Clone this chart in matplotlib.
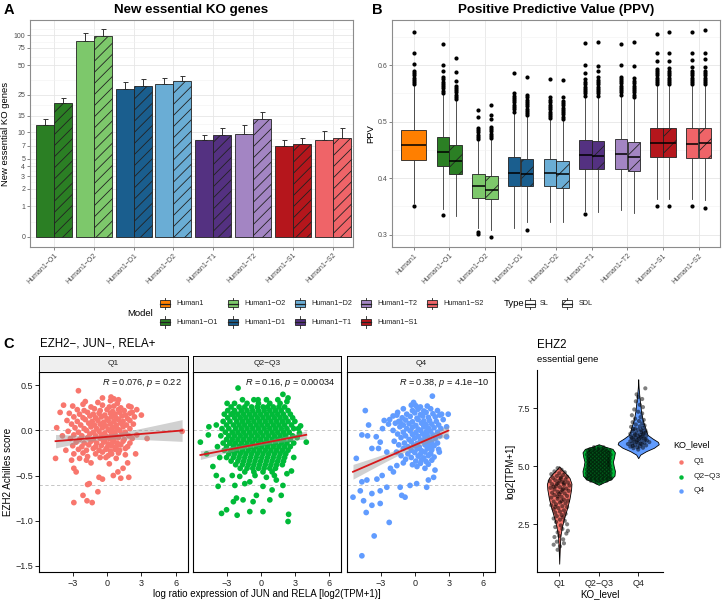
import numpy as np
import matplotlib
matplotlib.use('Agg')
import matplotlib.pyplot as plt
from matplotlib.patches import Rectangle

plt.rcParams['font.family'] = ['Liberation Sans', 'DejaVu Sans']
plt.rcParams['mathtext.fontset'] = 'custom'
plt.rcParams['mathtext.rm'] = 'Liberation Sans'
plt.rcParams['mathtext.it'] = 'Liberation Sans:italic'
plt.rcParams['hatch.linewidth'] = 0.6

# ---------------- data ----------------
models = ['Human1', 'Human1−O1', 'Human1−O2', 'Human1−D1', 'Human1−D2',
          'Human1−T1', 'Human1−T2', 'Human1−S1', 'Human1−S2']
model_colors = ['#FF7F00', '#2B7F24', '#7DC86B', '#1A5E8E', '#6AADD5',
                '#543181', '#A385C3', '#B5161C', '#EF6468']
types = ['SL', 'SDL']

# Panel A: new essential KO genes
ko_models = models[1:]
ko_sl = [12.0, 88.0, 28.8, 32.1, 8.1, 9.6, 7.0, 8.1]
ko_sdl = [20.6, 98.3, 30.6, 34.2, 9.4, 13.7, 7.3, 8.6]
ko_sl_hi = [13.9, 104.7, 34.0, 37.4, 9.3, 12.0, 8.2, 10.2]
ko_sdl_hi = [23.2, 116.5, 35.9, 39.2, 11.1, 16.4, 8.7, 11.1]
ko_ticks = [0, 1, 2, 3, 4, 5, 7, 10, 15, 25, 50, 75, 100]

# Panel B: PPV box statistics (order: Human1, then SL/SDL per model)
ppv_q1 = [0.4316, 0.4215, 0.4073, 0.3653, 0.3624, 0.386, 0.386, 0.3865, 0.383,
          0.4167, 0.4167, 0.4167, 0.413, 0.437, 0.437, 0.4365, 0.4365]
ppv_med = [0.4582, 0.4468, 0.4309, 0.386, 0.380, 0.410, 0.4073, 0.4085, 0.4067,
           0.441, 0.4392, 0.4422, 0.438, 0.4617, 0.4617, 0.4605, 0.4617]
ppv_q3 = [0.4853, 0.4734, 0.4592, 0.4073, 0.4043, 0.438, 0.4344, 0.4333, 0.430,
          0.4675, 0.4663, 0.4688, 0.4645, 0.4883, 0.4883, 0.4883, 0.4883]
ppv_lo = [0.356, 0.345, 0.333, 0.311, 0.309, 0.311, 0.322, 0.322, 0.322,
          0.342, 0.340, 0.344, 0.338, 0.364, 0.364, 0.364, 0.362]
ppv_hi = [0.563, 0.548, 0.537, 0.466, 0.468, 0.515, 0.508, 0.503, 0.502,
          0.543, 0.543, 0.545, 0.541, 0.563, 0.563, 0.563, 0.563]
ppv_fliers = [
    [0.566, 0.570, 0.574, 0.578, 0.582, 0.586, 0.590, 0.602, 0.621, 0.658, 0.351],
    [0.551, 0.555, 0.559, 0.563, 0.567, 0.571, 0.575, 0.579, 0.589, 0.601, 0.637, 0.335],
    [0.540, 0.544, 0.548, 0.552, 0.556, 0.560, 0.564, 0.572, 0.588, 0.613],
    [0.469, 0.473, 0.477, 0.481, 0.485, 0.489, 0.509, 0.521, 0.305, 0.302],
    [0.471, 0.475, 0.479, 0.483, 0.487, 0.491, 0.505, 0.512, 0.529, 0.296],
    [0.518, 0.522, 0.526, 0.530, 0.534, 0.538, 0.542, 0.546, 0.550, 0.586],
    [0.511, 0.515, 0.519, 0.523, 0.527, 0.531, 0.535, 0.539, 0.543, 0.548, 0.580, 0.308],
    [0.506, 0.510, 0.514, 0.518, 0.522, 0.526, 0.530, 0.534, 0.538, 0.543, 0.576],
    [0.505, 0.509, 0.513, 0.517, 0.521, 0.525, 0.529, 0.533, 0.537, 0.543, 0.573],
    [0.546, 0.550, 0.554, 0.558, 0.562, 0.566, 0.570, 0.575, 0.586, 0.600, 0.639, 0.337],
    [0.546, 0.550, 0.554, 0.558, 0.562, 0.566, 0.570, 0.574, 0.579, 0.590, 0.598, 0.641],
    [0.548, 0.552, 0.556, 0.560, 0.564, 0.568, 0.572, 0.576, 0.580, 0.601, 0.637],
    [0.544, 0.548, 0.552, 0.556, 0.560, 0.564, 0.568, 0.572, 0.577, 0.598, 0.641],
    [0.566, 0.570, 0.574, 0.578, 0.582, 0.586, 0.590, 0.593, 0.607, 0.622, 0.655, 0.350],
    [0.566, 0.570, 0.574, 0.578, 0.582, 0.586, 0.590, 0.595, 0.608, 0.622, 0.659, 0.350],
    [0.566, 0.570, 0.574, 0.578, 0.582, 0.586, 0.590, 0.596, 0.610, 0.622, 0.659, 0.350],
    [0.566, 0.570, 0.574, 0.578, 0.582, 0.586, 0.590, 0.597, 0.611, 0.622, 0.663, 0.348],
]

# Panel C: EZH2 Achilles score vs log ratio expression, per KO level
facet_names = ['Q1', 'Q2−Q3', 'Q4']
facet_colors = ['#F8766D', '#00BA38', '#619CFF']
facet_R = ['0.076', '0.16', '0.38']
facet_p = ['0.22', '0.00034', '4.1e−10']
fit_slope = [0.0107, 0.0241, 0.0546]
fit_icpt = [-0.071, -0.145, -0.163]
ci_h0 = [0.025, 0.02, 0.03]
ci_k = [0.017, 0.009, 0.015]

q1_sparse = [(-2.5, 0.44), (-3.8, 0.28), (-2.1, 0.29), (-4.1, 0.20), (-0.4, 0.36), (0.35, 0.37),
             (1.0, 0.34), (0.6, 0.35), (2.1, 0.26), (3.0, 0.17), (2.6, 0.23), (-4.4, 0.03),
             (-3.9, -0.06), (-4.5, -0.31), (-3.6, -0.22), (-2.9, -0.26), (-3.1, -0.33), (-2.9, -0.42),
             (-2.7, -0.46), (-2.4, -0.31), (-1.8, -0.33), (-1.4, -0.36), (-1.55, -0.59), (-1.7, -0.60),
             (-2.1, -0.72), (-2.9, -0.80), (-1.75, -0.78), (-1.3, -0.80), (-0.8, -0.68), (-0.7, -0.52),
             (-0.4, -0.54), (0.55, -0.50), (0.95, -0.46), (1.4, -0.42), (1.8, -0.36), (1.9, -0.52),
             (1.2, -0.53), (2.5, -0.26), (3.5, -0.09), (6.56, -0.01), (0.2, -0.37), (-0.1, -0.30)]
q1_core = [(-1.9, 0.32), (-0.8, 0.31), (0.3, 0.33), (0.9, 0.30),
           (-3.0, 0.27), (-1.4, 0.26), (-0.4, 0.28), (0.2, 0.26), (0.6, 0.27), (1.2, 0.25), (1.9, 0.27),
           (-2.6, 0.23), (-2.0, 0.22), (-1.1, 0.24), (-0.6, 0.22), (0.0, 0.23), (0.5, 0.21), (1.0, 0.23),
           (1.5, 0.22), (2.2, 0.20),
           (-3.3, 0.19), (-2.4, 0.18), (-1.7, 0.20), (-1.2, 0.18), (-0.7, 0.19), (-0.2, 0.17), (0.3, 0.19),
           (0.7, 0.18), (1.1, 0.20), (1.6, 0.17), (2.0, 0.19),
           (-2.9, 0.15), (-2.1, 0.14), (-1.5, 0.16), (-1.0, 0.14), (-0.5, 0.15), (0.0, 0.13), (0.4, 0.15),
           (0.8, 0.14), (1.3, 0.16), (1.8, 0.13), (2.4, 0.15),
           (-3.5, 0.11), (-2.6, 0.10), (-1.9, 0.12), (-1.3, 0.10), (-0.8, 0.11), (-0.3, 0.09), (0.1, 0.11),
           (0.6, 0.10), (1.0, 0.12), (1.4, 0.10), (2.0, 0.11),
           (-3.1, 0.07), (-2.3, 0.06), (-1.6, 0.08), (-1.1, 0.06), (-0.6, 0.07), (-0.1, 0.05), (0.3, 0.07),
           (0.8, 0.06), (1.2, 0.08), (1.7, 0.06), (2.3, 0.07),
           (-2.8, 0.03), (-2.0, 0.02), (-1.4, 0.04), (-0.9, 0.02), (-0.4, 0.03), (0.1, 0.01), (0.5, 0.03),
           (0.9, 0.02), (1.4, 0.04), (2.0, 0.02),
           (-3.4, -0.01), (-2.5, -0.02), (-1.8, 0.0), (-1.2, -0.02), (-0.7, -0.01), (-0.2, -0.03),
           (0.3, -0.01), (0.7, -0.02), (1.1, 0.0), (1.6, -0.02),
           (-2.9, -0.05), (-2.2, -0.06), (-1.5, -0.04), (-1.0, -0.06), (-0.5, -0.05), (0.0, -0.07),
           (0.4, -0.05), (0.8, -0.06), (1.3, -0.04), (1.9, -0.06), (2.6, -0.05),
           (-3.2, -0.09), (-2.4, -0.10), (-1.7, -0.08), (-1.2, -0.10), (-0.6, -0.09), (-0.2, -0.11),
           (0.2, -0.09), (0.6, -0.10), (1.0, -0.08), (1.5, -0.10), (2.2, -0.09),
           (-2.7, -0.13), (-2.0, -0.14), (-1.4, -0.12), (-0.9, -0.14), (-0.3, -0.13), (0.1, -0.15),
           (0.5, -0.13), (0.9, -0.14), (1.4, -0.12), (2.0, -0.14),
           (-3.0, -0.17), (-2.2, -0.18), (-1.6, -0.16), (-1.0, -0.18), (-0.5, -0.17), (0.0, -0.19),
           (0.4, -0.17), (0.8, -0.18), (1.2, -0.16), (1.8, -0.18),
           (-2.5, -0.21), (-1.8, -0.22), (-1.2, -0.20), (-0.7, -0.22), (-0.1, -0.21), (0.3, -0.23),
           (0.7, -0.21), (1.1, -0.22), (1.6, -0.20),
           (-2.1, -0.25), (-1.0, -0.26), (-0.4, -0.24), (0.4, -0.26), (1.0, -0.25), (1.6, -0.27),
           (-1.7, -0.29), (-0.6, -0.30), (0.1, -0.28), (0.8, -0.31)]

q23_sparse = [(-1.99, 0.47), (1.95, 0.40), (2.4, 0.36), (2.3, 0.32), (-0.23, 0.34), (4.0, -0.13),
              (3.3, 0.02), (3.4, -0.03), (-2.07, -0.94), (-0.96, -0.90), (0.2, -0.90), (2.45, -0.93),
              (2.4, -1.01), (-1.55, -0.77), (-2.13, -0.75), (-0.67, -0.79), (1.0, -0.66), (1.8, -0.72),
              (0.8, -0.77), (-0.38, -0.72), (1.95, -0.61), (1.37, -0.55), (0.2, -0.62), (-1.4, -0.59),
              (-2.27, -0.61), (-1.84, -0.51), (-0.96, -0.57), (-5.3, -0.13), (-4.75, -0.26), (-4.6, -0.05),
              (-4.55, 0.04), (-3.9, 0.06), (-4.2, -0.40), (-3.9, -0.50), (-3.35, -0.55), (-3.74, -0.62),
              (-3.0, -0.88), (-3.44, -0.92), (-2.4, -0.79), (-2.95, 0.30), (-2.42, 0.19), (-2.71, -0.14),
              (3.5, 0.05), (3.2, -0.08), (2.9, -0.30), (2.7, -0.45), (-3.6, -0.30), (-3.8, -0.18),
              (1.2, -0.50), (0.5, -0.52), (-0.5, -0.50), (2.3, -0.48), (-2.5, -0.50)]
q23_core_rows = [
    (0.34, [-1.6, -0.6, 0.5, 1.5]),
    (0.30, [-2.3, -1.2, -0.2, 0.8, 1.7]),
    (0.26, [-2.6, -1.9, -1.4, -0.8, -0.3, 0.2, 0.6, 1.1, 1.6, 2.1]),
    (0.22, [-2.9, -2.3, -1.7, -1.2, -0.7, -0.2, 0.3, 0.8, 1.3, 1.8, 2.4]),
    (0.18, [-3.2, -2.6, -2.0, -1.5, -1.0, -0.5, 0.0, 0.5, 1.0, 1.5, 2.0, 2.6]),
    (0.14, [-2.9, -2.3, -1.8, -1.3, -0.8, -0.3, 0.2, 0.7, 1.2, 1.7, 2.2, 2.8]),
    (0.10, [-3.3, -2.7, -2.1, -1.6, -1.1, -0.6, -0.1, 0.4, 0.9, 1.4, 1.9, 2.4, 3.0]),
    (0.06, [-3.0, -2.4, -1.9, -1.4, -0.9, -0.4, 0.1, 0.6, 1.1, 1.6, 2.1, 2.7]),
    (0.02, [-3.4, -2.8, -2.2, -1.7, -1.2, -0.7, -0.2, 0.3, 0.8, 1.3, 1.8, 2.3, 2.9]),
    (-0.02, [-3.1, -2.5, -2.0, -1.5, -1.0, -0.5, 0.0, 0.5, 1.0, 1.5, 2.0, 2.5]),
    (-0.06, [-3.5, -2.8, -2.3, -1.8, -1.3, -0.8, -0.3, 0.2, 0.7, 1.2, 1.7, 2.2, 2.8]),
    (-0.10, [-3.0, -2.5, -2.0, -1.5, -1.0, -0.5, 0.0, 0.5, 1.0, 1.5, 2.0, 2.6]),
    (-0.14, [-3.3, -2.7, -2.2, -1.7, -1.2, -0.7, -0.2, 0.3, 0.8, 1.3, 1.8, 2.3, 2.9]),
    (-0.18, [-3.0, -2.4, -1.9, -1.4, -0.9, -0.4, 0.1, 0.6, 1.1, 1.6, 2.1, 2.6]),
    (-0.22, [-3.2, -2.6, -2.1, -1.6, -1.1, -0.6, -0.1, 0.4, 0.9, 1.4, 1.9, 2.4]),
    (-0.26, [-2.8, -2.3, -1.8, -1.3, -0.8, -0.3, 0.2, 0.7, 1.2, 1.7, 2.2]),
    (-0.30, [-3.0, -2.4, -1.9, -1.4, -0.9, -0.4, 0.1, 0.6, 1.1, 1.6, 2.1]),
    (-0.34, [-2.6, -2.0, -1.5, -1.0, -0.5, 0.0, 0.5, 1.0, 1.5, 2.0]),
    (-0.38, [-2.2, -1.6, -1.1, -0.6, -0.1, 0.4, 0.9, 1.4, 1.9]),
    (-0.42, [-1.8, -1.2, -0.7, -0.2, 0.3, 0.8, 1.3]),
    (-0.46, [-1.4, -0.6, 0.2, 1.0]),
]

q4_sparse = [(1.55, 0.38), (-0.1, 0.31), (0.05, 0.28), (0.2, 0.26), (-4.34, 0.22), (-4.64, -0.05),
             (-4.05, 0.06), (-4.14, -0.06), (-5.13, -0.31), (-5.42, -0.74), (-4.78, -0.67), (-4.49, -0.78),
             (-4.26, -0.91), (-3.76, -0.83), (-3.76, -0.70), (-3.03, -0.81), (-2.24, -1.02), (-3.56, -1.17),
             (-4.64, -1.39), (-3.03, -0.67), (-2.45, -0.63), (-1.28, -0.63), (-0.85, -0.74), (-1.14, -0.72),
             (-0.41, -0.61), (0.17, -0.59), (1.05, -0.63), (1.2, -0.55), (1.66, -0.52), (1.78, -0.44),
             (2.16, -0.24), (2.36, 0.18), (2.94, 0.18), (2.8, 0.04), (2.8, -0.07), (-2.13, -0.42),
             (-2.86, -0.50), (-3.32, -0.54), (-4.64, -0.57), (-4.2, -0.55), (-1.87, -0.46), (-1.57, -0.39),
             (-2.45, -0.24), (-3.18, -0.20), (-3.76, -0.20), (-3.03, -0.13), (-3.38, -0.07), (-2.83, 0.02),
             (-2.68, 0.11), (-2.3, 0.07), (-1.57, 0.17), (-1.28, 0.09)]
q4_core = [(-0.3, 0.28), (0.5, 0.26), (1.1, 0.27),
           (-1.0, 0.24), (-0.2, 0.22), (0.3, 0.235), (0.8, 0.215), (1.4, 0.24), (2.0, 0.22),
           (-1.5, 0.2), (-0.7, 0.18), (0.0, 0.195), (0.5, 0.175), (1.0, 0.2), (1.6, 0.185), (2.2, 0.17),
           (-1.9, 0.16), (-1.1, 0.14), (-0.4, 0.155), (0.2, 0.135), (0.7, 0.16), (1.2, 0.145), (1.8, 0.15),
           (-2.2, 0.12), (-1.4, 0.1), (-0.8, 0.115), (-0.2, 0.095), (0.3, 0.12), (0.8, 0.105), (1.3, 0.11),
           (1.9, 0.1), (2.5, 0.12),
           (-1.7, 0.08), (-1.0, 0.06), (-0.5, 0.075), (0.1, 0.055), (0.6, 0.08), (1.0, 0.065), (1.5, 0.07),
           (2.1, 0.06),
           (-1.3, 0.04), (-0.7, 0.02), (-0.2, 0.035), (0.3, 0.015), (0.8, 0.04), (1.2, 0.025), (1.7, 0.03),
           (2.3, 0.02),
           (-1.9, 0.0), (-1.0, -0.02), (-0.4, -0.005), (0.1, -0.025), (0.5, 0.0), (1.0, -0.015),
           (1.4, -0.01), (2.0, -0.02),
           (-1.5, -0.04), (-0.8, -0.06), (-0.2, -0.045), (0.3, -0.065), (0.7, -0.04), (1.1, -0.055),
           (1.6, -0.05), (2.2, -0.06),
           (-1.2, -0.08), (-0.5, -0.1), (0.0, -0.085), (0.5, -0.105), (0.9, -0.08), (1.3, -0.095),
           (1.8, -0.09),
           (-1.8, -0.12), (-0.9, -0.14), (-0.3, -0.125), (0.2, -0.145), (0.7, -0.12), (1.1, -0.135),
           (1.5, -0.13), (2.0, -0.14),
           (-1.4, -0.16), (-0.6, -0.18), (-0.1, -0.165), (0.4, -0.185), (0.9, -0.16), (1.3, -0.175),
           (1.7, -0.17),
           (-1.0, -0.2), (-0.3, -0.22), (0.2, -0.205), (0.6, -0.225), (1.1, -0.2), (1.5, -0.215),
           (2.1, -0.21),
           (-1.6, -0.24), (-0.6, -0.26), (0.0, -0.245), (0.5, -0.265), (0.9, -0.24), (1.4, -0.255),
           (-1.2, -0.28), (-0.3, -0.3), (0.3, -0.285), (0.8, -0.305), (1.2, -0.28), (1.7, -0.295),
           (-0.8, -0.32), (0.1, -0.34), (0.6, -0.325), (1.0, -0.345), (1.5, -0.33),
           (-1.0, -0.36), (-0.2, -0.38), (0.5, -0.365), (1.2, -0.375),
           (0.2, -0.4), (0.9, -0.42)]

# Panel D: EHZ2 expression violins (profile: value level, half width)
vio_names = ['Q1', 'Q2−Q3', 'Q4']
vq1_y = [0.8, 1.5, 2.0, 2.4, 2.8, 3.2, 3.6, 4.0, 4.25, 4.5, 4.7, 4.85, 5.0]
vq1_w = [0.0, 0.015, 0.03, 0.07, 0.13, 0.20, 0.26, 0.30, 0.31, 0.26, 0.16, 0.07, 0.0]
vq23_y = [4.2, 4.3, 4.45, 4.6, 4.8, 5.0, 5.2, 5.4, 5.6, 5.75, 5.85, 5.95]
vq23_w = [0.0, 0.12, 0.32, 0.40, 0.41, 0.38, 0.36, 0.39, 0.41, 0.35, 0.15, 0.0]
vq4_y = [5.35, 5.5, 5.65, 5.8, 5.95, 6.05, 6.2, 6.35, 6.5, 6.7, 6.9, 7.1, 7.4, 7.7, 8.0, 8.4, 8.75]
vq4_w = [0.0, 0.05, 0.2, 0.4, 0.52, 0.5, 0.36, 0.24, 0.2, 0.17, 0.13, 0.1, 0.07, 0.05, 0.03, 0.01, 0.0]

vq1_pts = [(-0.04, 4.92), (0.06, 4.85), (-0.12, 4.78), (0.14, 4.74), (0.0, 4.7), (-0.2, 4.66), (0.1, 4.62),
           (-0.06, 4.58), (0.2, 4.55), (-0.16, 4.5), (0.04, 4.47), (0.16, 4.43), (-0.1, 4.4), (-0.24, 4.36),
           (0.08, 4.33), (0.22, 4.3), (-0.02, 4.27), (-0.18, 4.23), (0.12, 4.2), (0.26, 4.17), (-0.08, 4.14),
           (0.02, 4.1), (-0.22, 4.07), (0.18, 4.04), (-0.12, 4.0), (0.08, 3.97), (0.24, 3.94), (-0.04, 3.9),
           (-0.18, 3.86), (0.14, 3.83), (0.0, 3.8), (-0.12, 3.76), (0.2, 3.72), (0.06, 3.68), (-0.2, 3.65),
           (-0.04, 3.6), (0.12, 3.56), (0.22, 3.52), (-0.14, 3.48), (0.02, 3.44), (0.16, 3.4), (-0.08, 3.36),
           (-0.2, 3.32), (0.08, 3.28), (0.2, 3.24), (-0.02, 3.2), (-0.14, 3.15), (0.12, 3.1), (0.02, 3.05),
           (-0.1, 3.0), (0.16, 2.95), (0.06, 2.9), (-0.06, 2.85), (0.1, 2.8), (-0.14, 2.75), (0.02, 2.7),
           (0.14, 2.65), (-0.08, 2.6), (0.2, 2.5), (0.04, 2.45), (-0.1, 2.38), (0.08, 2.3), (0.22, 2.22),
           (-0.04, 2.15), (0.18, 2.1), (0.0, 2.0), (-0.12, 1.95), (0.1, 1.85), (-0.06, 1.75), (0.12, 1.68),
           (-0.14, 1.62), (0.02, 1.55), (-0.04, 1.4), (0.04, 4.52), (-0.06, 4.24), (0.1, 4.02), (-0.04, 3.7),
           (0.06, 3.5), (-0.1, 3.25), (0.0, 4.38), (0.12, 4.28), (-0.14, 4.12), (0.04, 3.88)]
vq23_rows = [
    (4.30, [-0.05, 0.05]),
    (4.38, [-0.2, -0.1, 0.0, 0.1, 0.2]),
    (4.46, [-0.28, -0.18, -0.08, 0.02, 0.12, 0.22, 0.3]),
    (4.54, [-0.3, -0.2, -0.1, 0.0, 0.1, 0.2, 0.3]),
    (4.62, [-0.25, -0.15, -0.05, 0.05, 0.15, 0.25]),
    (4.70, [-0.3, -0.2, -0.1, 0.0, 0.1, 0.2, 0.3]),
    (4.78, [-0.25, -0.15, -0.05, 0.05, 0.15, 0.25]),
    (4.86, [-0.3, -0.2, -0.1, 0.0, 0.1, 0.2, 0.3]),
    (4.94, [-0.25, -0.15, -0.05, 0.05, 0.15, 0.25]),
    (5.02, [-0.28, -0.2, -0.1, 0.0, 0.1, 0.2, 0.28]),
    (5.10, [-0.25, -0.15, -0.05, 0.05, 0.15, 0.25]),
    (5.18, [-0.27, -0.2, -0.1, 0.0, 0.1, 0.2, 0.27]),
    (5.26, [-0.25, -0.15, -0.05, 0.05, 0.15, 0.25]),
    (5.34, [-0.28, -0.2, -0.1, 0.0, 0.1, 0.2, 0.28]),
    (5.42, [-0.25, -0.15, -0.05, 0.05, 0.15, 0.25]),
    (5.50, [-0.3, -0.2, -0.1, 0.0, 0.1, 0.2, 0.3]),
    (5.58, [-0.25, -0.15, -0.05, 0.05, 0.15, 0.25]),
    (5.66, [-0.28, -0.2, -0.1, 0.0, 0.1, 0.2, 0.28]),
    (5.74, [-0.22, -0.12, -0.02, 0.08, 0.18]),
    (5.82, [-0.12, 0.0, 0.12]),
]
vq4_pts = [(0.0, 5.72), (-0.12, 5.78), (0.12, 5.8), (-0.2, 5.85), (0.04, 5.86), (0.2, 5.9), (-0.08, 5.92),
           (0.1, 5.95), (-0.16, 5.98), (0.0, 6.0), (0.16, 6.02), (-0.04, 6.05), (-0.2, 6.08), (0.08, 6.1),
           (0.22, 6.12), (-0.12, 6.15), (0.02, 6.18), (0.14, 6.2), (-0.06, 6.23), (-0.18, 6.26), (0.1, 6.28),
           (0.2, 6.3), (-0.1, 6.33), (0.04, 6.36), (-0.2, 6.4), (0.14, 6.42), (-0.04, 6.45), (0.08, 6.48),
           (-0.14, 6.52), (0.18, 6.55), (0.0, 6.58), (-0.08, 6.62), (0.12, 6.65), (-0.18, 6.7), (0.04, 6.72),
           (0.16, 6.76), (-0.06, 6.8), (0.1, 6.85), (-0.14, 6.9), (0.02, 6.95), (0.14, 7.0), (-0.08, 7.05),
           (0.06, 7.12), (-0.16, 7.2), (0.1, 7.28), (0.0, 7.35), (-0.1, 7.45), (0.12, 7.55), (0.04, 7.65),
           (-0.06, 7.8), (0.1, 7.9), (0.0, 7.98), (0.18, 8.36), (-0.04, 8.1), (-0.14, 5.88), (0.06, 5.97),
           (-0.02, 6.13), (0.18, 6.16), (-0.16, 6.22), (0.06, 6.25), (-0.08, 6.38), (0.2, 6.46), (0.0, 6.3),
           (-0.1, 6.07), (0.12, 6.38), (-0.26, 5.96), (0.28, 6.04), (-0.02, 5.82), (0.08, 6.55), (-0.12, 6.6)]

# ---------------- figure ----------------
W, H = 723, 601
fig = plt.figure(figsize=(W / 100, H / 100), dpi=100)


def add_ax(x0, y0, x1, y1):
    return fig.add_axes([x0 / W, 1 - y1 / H, (x1 - x0) / W, (y1 - y0) / H])


def bw_style(ax):
    for s in ax.spines.values():
        s.set_color('#8C8C8C')
        s.set_linewidth(0.8)
    ax.tick_params(which='major', length=2, width=0.5, color='#555555', labelsize=5,
                   labelcolor='#4D4D4D', pad=1.5)
    ax.tick_params(which='minor', length=0)
    ax.set_axisbelow(True)
    ax.grid(which='major', color='#E6E6E6', lw=0.6)
    ax.grid(which='minor', color='#F2F2F2', lw=0.4)


# ---- Panel A ----
def fwd(v):
    return np.log10(np.clip(np.asarray(v, float) + 1, 1e-9, None))


def inv(t):
    return 10 ** np.asarray(t, float) - 1


axA = add_ax(30, 20, 352.7, 247)
axA.set_yscale('function', functions=(fwd, inv))
xa = np.arange(1, len(ko_models) + 1)
bw = 0.45
sl = np.array(ko_sl); sdl = np.array(ko_sdl)
axA.errorbar(xa - bw / 2, sl, yerr=[np.zeros(len(sl)), np.array(ko_sl_hi) - sl], fmt='none',
             ecolor='#333333', elinewidth=0.7, capsize=1.8, capthick=0.7, zorder=2)
axA.errorbar(xa + bw / 2, sdl, yerr=[np.zeros(len(sdl)), np.array(ko_sdl_hi) - sdl], fmt='none',
             ecolor='#333333', elinewidth=0.7, capsize=1.8, capthick=0.7, zorder=2)
axA.bar(xa - bw / 2, sl, width=bw, color=model_colors[1:], edgecolor='#222222', linewidth=0.6, zorder=3)
axA.bar(xa + bw / 2, sdl, width=bw, color=model_colors[1:], edgecolor='#222222', linewidth=0.6,
        hatch='///', zorder=3)
axA.set_xlim(0.4, 8.5)
axA.set_ylim(-0.211, 142.9)
axA.set_yticks(ko_ticks)
axA.set_yticklabels([str(t) for t in ko_ticks])
tk = fwd(ko_ticks)
minor_t = list((tk[:-1] + tk[1:]) / 2) + [tk[-1] + (tk[-1] - tk[-2]) / 2]
axA.set_yticks(inv(minor_t), minor=True)
axA.set_xticks(xa)
axA.set_xticklabels(ko_models, rotation=45, ha='right', va='top', rotation_mode='anchor')
bw_style(axA)

# ---- Panel B ----
axB = add_ax(392.3, 20, 720, 247.3)
box_pos, box_w, box_col, box_hatch = [], [], [], []
for k in range(len(models)):
    if k == 0:
        box_pos.append(1); box_w.append(0.7); box_col.append(model_colors[0]); box_hatch.append(None)
    else:
        for t, off in enumerate((-0.18, 0.18)):
            box_pos.append(k + 1 + off); box_w.append(0.35); box_col.append(model_colors[k])
            box_hatch.append(None if t == 0 else '//')
stats = [dict(med=ppv_med[i], q1=ppv_q1[i], q3=ppv_q3[i], whislo=ppv_lo[i], whishi=ppv_hi[i],
              fliers=np.array(ppv_fliers[i])) for i in range(len(ppv_med))]
bp = axB.bxp(stats, positions=box_pos, widths=box_w, patch_artist=True, showcaps=False,
             manage_ticks=False,
             flierprops=dict(marker='o', markersize=3.0, markerfacecolor='black', markeredgecolor='none'),
             medianprops=dict(color='black', lw=1.1),
             whiskerprops=dict(color='#333333', lw=0.6),
             boxprops=dict(edgecolor='#222222', lw=0.6))
for patch, c, h in zip(bp['boxes'], box_col, box_hatch):
    patch.set_facecolor(c)
    if h:
        patch.set_hatch(h)
axB.set_xlim(0.4, 9.6)
axB.set_ylim(0.2777, 0.680)
axB.set_yticks([0.3, 0.4, 0.5, 0.6])
axB.set_yticklabels(['0.3', '0.4', '0.5', '0.6'])
axB.set_yticks([0.35, 0.45, 0.55, 0.65], minor=True)
axB.set_xticks(np.arange(1, 10))
axB.set_xticklabels(models, rotation=45, ha='right', va='top', rotation_mode='anchor')
bw_style(axB)

# ---- Panel C ----
facet_px = [(39.3, 187.7), (193.3, 341), (347.3, 495)]
facet_pts = [q1_sparse + q1_core,
             q23_sparse + [(x, y) for y, xs in q23_core_rows for x in xs],
             q4_sparse + q4_core]
for i in range(3):
    x0, x1 = facet_px[i]
    ax = add_ax(x0, 371.7, x1, 572.3)
    pts = facet_pts[i]
    px = np.array([p[0] for p in pts]); py = np.array([p[1] for p in pts])
    ax.axhline(0, color='#BDBDBD', ls=(0, (4, 3)), lw=0.6, zorder=1)
    ax.axhline(-0.6, color='#BDBDBD', ls=(0, (4, 3)), lw=0.6, zorder=1)
    ax.scatter(px, py, s=17, color=facet_colors[i], edgecolors='none', zorder=2)
    xs = np.linspace(px.min(), px.max(), 100)
    ys = fit_icpt[i] + fit_slope[i] * xs
    h = np.sqrt(ci_h0[i] ** 2 + (ci_k[i] * (xs - px.mean())) ** 2)
    ax.fill_between(xs, ys - h, ys + h, color='#999999', alpha=0.45, lw=0, zorder=3)
    ax.plot(xs, ys, color='#D7191C', lw=1.3, zorder=4)
    ax.set_xlim(-5.92, 7.05)
    ax.set_ylim(-1.573, 0.651)
    ax.set_xticks([-3, 0, 3, 6])
    ax.set_xticklabels(['−3', '0', '3', '6'])
    ax.set_yticks([0.5, 0.0, -0.5, -1.0, -1.5])
    ax.set_yticklabels(['0.5', '0.0', '−0.5', '−1.0', '−1.5'])
    ax.tick_params(length=3, width=0.6, color='black', labelsize=6.5, labelcolor='#222222', pad=1.5)
    if i > 0:
        ax.tick_params(left=False, labelleft=False)
    for s in ax.spines.values():
        s.set_color('black'); s.set_linewidth(0.8)
    ax.text(0.96, 0.942, r'$\mathit{R}$ = ' + facet_R[i] + r', $\mathit{p}$ = ' + facet_p[i],
            transform=ax.transAxes, ha='right', va='center', fontsize=6.6, color='#111111')
    st = add_ax(x0, 356, x1, 371.7)
    st.set_facecolor('#EFEFEF')
    st.set_xticks([]); st.set_yticks([])
    for s in st.spines.values():
        s.set_color('black'); s.set_linewidth(0.7)
    st.text(0.5, 0.5, facet_names[i], ha='center', va='center', fontsize=6, color='#222222',
            transform=st.transAxes)

# ---- Panel D ----
axD = add_ax(536.7, 370, 662.7, 572.3)
vy_all = [vq1_y, vq23_y, vq4_y]
vw_all = [vq1_w, vq23_w, vq4_w]
for i in range(3):
    pos = i + 1
    vy = np.array(vy_all[i]); vw = np.array(vw_all[i])
    axD.fill_betweenx(vy, pos - vw, pos + vw, facecolor=facet_colors[i], edgecolor='black', lw=0.6,
                      zorder=2)
vpts = [vq1_pts, [(xo, y) for y, xs in vq23_rows for xo in xs], vq4_pts]
for i in range(3):
    xo = np.array([p[0] for p in vpts[i]]) + i + 1
    yv = np.array([p[1] for p in vpts[i]])
    axD.scatter(xo, yv, s=9, color='black', alpha=0.5, edgecolors='none', zorder=3)
axD.set_xlim(0.43, 3.62)
axD.set_ylim(0.43, 9.15)
axD.set_xticks([1, 2, 3])
axD.set_xticklabels(vio_names)
axD.set_yticks([2.5, 5.0, 7.5])
axD.set_yticklabels(['2.5', '5.0', '7.5'])
axD.spines['top'].set_visible(False)
axD.spines['right'].set_visible(False)
for s in ('left', 'bottom'):
    axD.spines[s].set_color('black'); axD.spines[s].set_linewidth(0.8)
axD.tick_params(length=3, width=0.6, color='black', labelsize=6.5, labelcolor='#222222', pad=1.5)

# ---- overlay for titles, labels and legends ----
lg = fig.add_axes([0, 0, 1, 1])
lg.set_xlim(0, W); lg.set_ylim(H, 0); lg.axis('off')

lg.text(3.5, 13.5, 'A', fontsize=10.5, fontweight='bold', va='baseline')
lg.text(191.3, 13.5, 'New essential KO genes', fontsize=9.6, fontweight='bold', ha='center', va='baseline')
lg.text(372, 13.5, 'B', fontsize=10.5, fontweight='bold', va='baseline')
lg.text(556, 13.5, 'Positive Predictive Value (PPV)', fontsize=9.6, fontweight='bold', ha='center',
        va='baseline')
lg.text(6, 133.5, 'New essential KO genes', fontsize=6.8, rotation=90, ha='center', va='center')
lg.text(371, 133.5, 'PPV', fontsize=6.8, rotation=90, ha='center', va='center')

lg.text(3.5, 347.5, 'C', fontsize=10.5, fontweight='bold', va='baseline')
lg.text(40, 347, 'EZH2−, JUN−, RELA+', fontsize=8.3, va='baseline')
lg.text(8, 472, 'EZH2 Achilles score', fontsize=7.1, rotation=90, ha='center', va='center')
lg.text(267, 594, 'log ratio expression of JUN and RELA [log2(TPM+1)]', fontsize=7.0, ha='center',
        va='center')
lg.text(536.7, 347.5, 'EHZ2', fontsize=8.3, va='baseline')
lg.text(536.7, 361.5, 'essential gene', fontsize=6.8, va='baseline')
lg.text(510, 471, 'log2[TPM+1]', fontsize=7.0, rotation=90, ha='center', va='center')
lg.text(600, 594, 'KO_level', fontsize=7.0, ha='center', va='center')


def box_key(cx, cy, fc, hatch=None):
    w, h, wh = 10, 6.5, 2.3
    lg.add_patch(Rectangle((cx - w / 2, cy - h / 2), w, h, facecolor=fc, edgecolor='#222222', lw=0.6,
                           hatch=hatch))
    lg.plot([cx - w / 2, cx + w / 2], [cy, cy], color='#222222', lw=0.9)
    lg.plot([cx, cx], [cy - h / 2 - wh, cy - h / 2], color='#222222', lw=0.6)
    lg.plot([cx, cx], [cy + h / 2, cy + h / 2 + wh], color='#222222', lw=0.6)


lg.text(127.7, 313, 'Model', fontsize=6.8, va='center')
col_text_x = [176.7, 244.3, 311, 377.7, 443.3]
row_y = [303.5, 322]
for k, (name, c) in enumerate(zip(models, model_colors)):
    col, row = k // 2, k % 2
    box_key(col_text_x[col] - 11.5, row_y[row], c)
    lg.text(col_text_x[col], row_y[row], name, fontsize=5.2, va='center', color='#222222')

lg.text(504, 303.5, 'Type', fontsize=6.8, va='center')
box_key(530, 303.5, 'white')
lg.text(540, 303.5, types[0], fontsize=5.2, va='center', color='#222222')
box_key(567, 303.5, 'white', hatch='//')
lg.text(579, 303.5, types[1], fontsize=5.2, va='center', color='#222222')

lg.text(673, 445, 'KO_level', fontsize=6.5, va='center')
for i, (name, c) in enumerate(zip(vio_names, facet_colors)):
    yy = [461.7, 476.7, 491][i]
    lg.plot([680.7], [yy], marker='o', ms=3.2, color=c, mec='none')
    lg.text(693.3, yy, name, fontsize=6.0, va='center', color='#222222')

fig.savefig('out.png', dpi=100)
